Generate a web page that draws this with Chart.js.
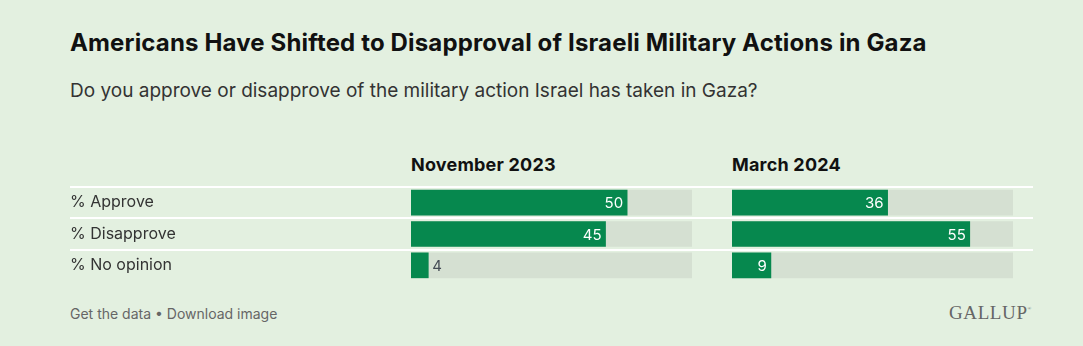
<!DOCTYPE html>
<html>
<head>
<meta charset="utf-8">
<script src="https://cdn.jsdelivr.net/npm/chart.js@4"></script>
<style>
  body { margin: 0; background: #e3f0e0; font-family: Inter, "Noto Sans", sans-serif; }
  #page { position: relative; width: 1083px; height: 346px; overflow: hidden; }
  .abs { position: absolute; white-space: nowrap; }
  #title { left: 70px; top: 28px; font-size: 24px; font-weight: 700; color: #111; letter-spacing: 0.15px; }
  #subtitle { left: 70px; top: 79px; font-size: 19px; color: #333; }
  .colhead { top: 154px; font-size: 18px; font-weight: 700; color: #111; letter-spacing: 0.2px; }
  .rule { position: absolute; left: 70px; width: 963px; height: 2px; background: #fff; }
  #footer { left: 70px; top: 305px; font-size: 14px; color: #666; }
  #logo { left: 949px; top: 302px; font-family: "Liberation Serif", "DejaVu Serif", serif; font-size: 19px; color: #666; letter-spacing: 0.6px; }
  #logo sup { font-size: 5px; vertical-align: 9px; }
</style>
</head>
<body>
<div id="page">
  <div id="title" class="abs">Americans Have Shifted to Disapproval of Israeli Military Actions in Gaza</div>
  <div id="subtitle" class="abs">Do you approve or disapprove of the military action Israel has taken in Gaza?</div>
  <div class="abs colhead" style="left:411px">November 2023</div>
  <div class="abs colhead" style="left:732px">March 2024</div>
  <div class="rule" style="top:186px"></div>
  <div class="rule" style="top:217px"></div>
  <div class="rule" style="top:249px"></div>
  <div class="abs" style="left:70px; top:187px; width:622px; height:94px"><canvas id="chartNov"></canvas></div>
  <div class="abs" style="left:732px; top:187px; width:281px; height:94px"><canvas id="chartMar"></canvas></div>
  <div id="footer" class="abs">Get the data • Download image</div>
  <div id="logo" class="abs">GALLUP<sup>®</sup></div>
</div>
<script>
// Données
const categories = ['% Approve', '% Disapprove', '% No opinion'];
const nov2023 = [50, 45, 4];
const mar2024 = [36, 55, 9];
const scaleMax = 65;

const green = '#06884e';
const track = '#d5e0d2';

// Étiquettes de valeur : dans la barre si elle est assez large, sinon à côté
const valueLabels = {
    id: 'valueLabels',
    afterDatasetsDraw(chart) {
        const ctx = chart.ctx;
        const meta = chart.getDatasetMeta(1);
        const values = chart.data.datasets[1].data;
        ctx.save();
        ctx.font = '15px Inter, "Noto Sans", sans-serif';
        ctx.textBaseline = 'middle';
        meta.data.forEach((bar, i) => {
            const txt = String(values[i]);
            const w = ctx.measureText(txt).width;
            const barW = bar.x - bar.base;
            if (barW > w + 8) {
                ctx.fillStyle = '#fff';
                ctx.textAlign = 'right';
                ctx.fillText(txt, bar.x - 4, bar.y + 1);
            } else {
                ctx.fillStyle = '#444b55';
                ctx.textAlign = 'left';
                ctx.fillText(txt, bar.x + 4, bar.y + 1);
            }
        });
        ctx.restore();
    }
};

function makeChart(id, values, showLabels) {
    return new Chart(document.getElementById(id), {
        type: 'bar',
        data: {
            labels: categories,
            datasets: [
                { data: categories.map(() => scaleMax), backgroundColor: track, barThickness: 25, grouped: false, order: 2 },
                { data: values, backgroundColor: green, barThickness: 25, grouped: false, order: 1 }
            ]
        },
        options: {
            indexAxis: 'y',
            responsive: true,
            maintainAspectRatio: false,
            animation: false,
            layout: { padding: 0 },
            plugins: {
                legend: { display: false },
                tooltip: { enabled: false }
            },
            scales: {
                x: { display: false, min: 0, max: scaleMax },
                y: {
                    display: showLabels,
                    border: { display: false },
                    grid: { display: false, drawTicks: false },
                    ticks: {
                        crossAlign: 'far',
                        padding: 0,
                        color: '#333',
                        font: { family: 'Inter, "Noto Sans", sans-serif', size: 16 }
                    },
                    afterFit: function(scale) {
                        if (!showLabels) return;
                        scale.width = 341;
                        scale.paddingTop = 0;
                        scale.paddingBottom = 0;
                    }
                }
            }
        },
        plugins: [valueLabels]
    });
}

makeChart('chartNov', nov2023, true);
makeChart('chartMar', mar2024, false);
</script>
</body>
</html>
